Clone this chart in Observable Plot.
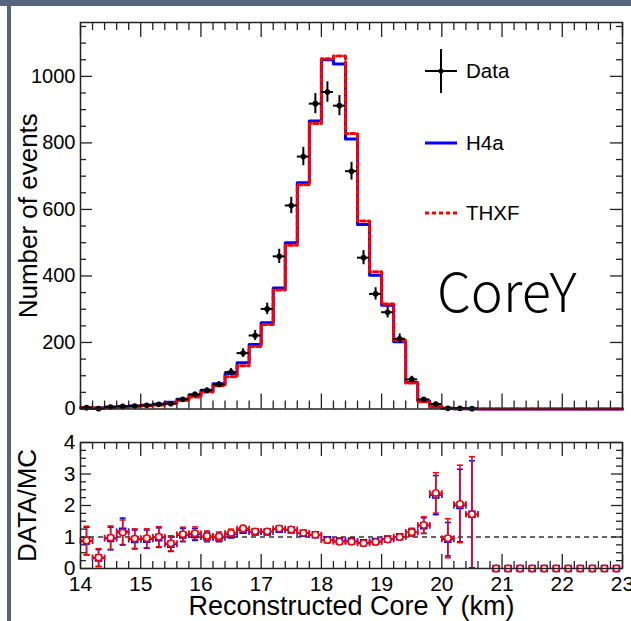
<!DOCTYPE html>
<html><head><meta charset="utf-8">
<script src="https://cdn.jsdelivr.net/npm/d3@7"></script>
<script src="https://cdn.jsdelivr.net/npm/@observablehq/plot@0.6"></script>
<style>
html,body{margin:0;padding:0;background:#fff;}
#wrap{position:relative;width:631px;height:621px;overflow:hidden;background:#fff;font-family:"Liberation Sans",Arial,sans-serif;}
#topband{position:absolute;left:0;top:0;width:631px;height:6px;background:#56657e;}
#leftbar{position:absolute;left:7px;top:6px;width:4px;height:615px;background:#56657e;}
#p1{position:absolute;left:0;top:0;}
#p2{position:absolute;left:0;top:420px;}
</style></head><body>
<div id="wrap"><div id="p1"></div><div id="p2"></div><div id="topband"></div><div id="leftbar"></div></div>
<script>
// ---- data ----
const binCenters = [14.1,14.3,14.5,14.7,14.9,15.1,15.3,15.5,15.7,15.9,16.1,16.3,16.5,16.7,16.9,17.1,17.3,17.5,17.7,17.9,
  18.1,18.3,18.5,18.7,18.9,19.1,19.3,19.5,19.7,19.9,20.1,20.3,20.5,20.7,20.9,21.1,21.3,21.5,21.7,21.9,22.1,22.3,22.5,22.7,22.9];
const binHalfWidth = 0.1;
const h4a = [4,3,6,7,9,11,14,20,29,41,56,76,106,139,194,259,364,500,680,866,
  1050,1037,812,555,402,312,202,80,24,7,2,1,0.6,0.3,0,0,0,0,0,0,0,0,0,0,0];
const thxf = [4,3,5,6,8,10,12,18,26,36,51,70,97,130,188,254,358,492,674,858,
  1053,1061,828,565,413,316,206,78,22,6,2,1,0.5,0.3,0,0,0,0,0,0,0,0,0,0,0];
const dataVals = [4,1,6,8,9,11,14,16,29,44,56,74,111,168,221,301,459,612,759,918,
  953,912,715,455,346,291,211,89,29,15,2,2,1];
const dataErr = [2,1,2.4,2.8,3,3.3,3.7,4,5.4,6.6,7.5,8.6,10.5,13,14.9,17.3,21.4,24.7,27.5,30.3,
  30.9,30.2,26.7,21.3,18.6,17.1,14.5,9.4,5.4,3.9,1.4,1.4,1];
const ratioH4a = [0.87,0.33,0.95,1.18,0.92,0.93,0.98,0.77,1.06,1.08,1.0,0.98,1.08,1.22,1.16,1.16,1.25,1.22,1.12,1.07,
  0.91,0.87,0.87,0.82,0.86,0.94,1.01,1.15,1.36,2.33,0.93,2.0,1.72,null,0,0,0,0,0,0,0,0,0,0,0];
const ratioTHXF = [0.89,0.35,0.98,1.14,0.95,0.96,1.01,0.80,1.09,1.12,1.03,1.02,1.13,1.27,1.18,1.18,1.27,1.24,1.13,1.07,
  0.90,0.85,0.85,0.80,0.84,0.92,1.0,1.15,1.38,2.40,0.96,2.05,1.72,null,0,0,0,0,0,0,0,0,0,0,0];
const errH4a = [0.44,0.27,0.36,0.42,0.3,0.29,0.31,0.23,0.21,0.19,0.15,0.13,0.11,0.1,0.08,0.07,0.06,0.05,0.04,0.04,
  0.03,0.03,0.03,0.04,0.05,0.05,0.07,0.12,0.25,0.62,0.53,1.15,1.7];
const errTHXF = [0.45,0.28,0.37,0.40,0.31,0.3,0.32,0.24,0.22,0.2,0.16,0.14,0.12,0.1,0.08,0.07,0.06,0.05,0.04,0.04,
  0.03,0.03,0.03,0.04,0.05,0.05,0.07,0.12,0.26,0.64,0.62,1.23,1.83];
const xMajor = [14,15,16,17,18,19,20,21,22,23];
const yMajorTop = [0,200,400,600,800,1000];
const yMajorRatio = [0,1,2,3,4];

// ---- helpers ----
const FONT = "'Liberation Sans', Arial, Helvetica, sans-serif";
const W = 631, mL = 80, mR = 9;
const fw = W - mL - mR;
const xMinor = d3.range(0, 46).map(i => Math.round((14 + i*0.2)*10)/10).filter(v => !Number.isInteger(v));
const yMinorTop = d3.range(0, 24).map(i => i*50).filter(v => v % 200 !== 0);
const yMinorRatio = d3.range(0, 17).map(i => i*0.25).filter(v => !Number.isInteger(v));
const TK = {stroke: "#222", strokeWidth: 1.3};
function xTicks(vals, len, fh) {
  return [Plot.ruleX(vals, {x: d => d, insetTop: fh - len, ...TK}),
          Plot.ruleX(vals, {x: d => d, insetBottom: fh - len, ...TK})];
}
function yTicks(vals, len) {
  return [Plot.ruleY(vals, {y: d => d, insetRight: fw - len, ...TK}),
          Plot.ruleY(vals, {y: d => d, insetLeft: fw - len, ...TK})];
}
const capH = {draw(ctx){ ctx.moveTo(-3,0); ctx.lineTo(3,0); }};
const capV = {draw(ctx){ ctx.moveTo(0,-3); ctx.lineTo(0,3); }};

// ---- top panel ----
const H1 = 420, mT1 = 22, mB1 = 11.5, fh1 = H1 - mT1 - mB1;
const steps = arr => binCenters.map((c,i) => ({x: c - binHalfWidth, y: arr[i]}))
  .concat([{x: binCenters[binCenters.length-1] + binHalfWidth, y: arr[arr.length-1]}]);
const dataRows = dataVals.map((v,i) => ({x: binCenters[i], y: v, e: dataErr[i]}));

const svg1 = Plot.plot({
  width: W, height: H1, marginLeft: mL, marginRight: mR, marginTop: mT1, marginBottom: mB1,
  style: {fontFamily: FONT, background: "transparent", overflow: "visible"},
  x: {domain: [14, 23], axis: null},
  y: {domain: [0, 1162]},
  marks: [
    ...xTicks(xMajor, 15, fh1), ...xTicks(xMinor, 8, fh1),
    ...yTicks(yMajorTop, 12), ...yTicks(yMinorTop, 6),
    Plot.line(steps(h4a), {x: "x", y: "y", curve: "step-after", stroke: "#0000ff", strokeWidth: 3}),
    Plot.line(steps(thxf), {x: "x", y: "y", curve: "step-after", stroke: "#ff0000", strokeWidth: 3, strokeDasharray: "4,3"}),
    Plot.ruleX(dataRows, {x: "x", y1: d => Math.max(0, d.y - d.e), y2: d => d.y + d.e, stroke: "#000", strokeWidth: 2}),
    Plot.ruleY(dataRows, {y: "y", x1: d => d.x - binHalfWidth, x2: d => d.x + binHalfWidth, stroke: "#000", strokeWidth: 2}),
    Plot.dot(dataRows, {x: "x", y: "y", r: 2.8, fill: "#000"}),
    Plot.frame({stroke: "#222", strokeWidth: 1.5}),
    Plot.axisY(yMajorTop, {tickSize: 0, tickPadding: 5, fontSize: 20, label: null, tickFormat: d => String(d)}),
    Plot.text(["Number of events"], {frameAnchor: "left", textAnchor: "middle", dx: -44, rotate: -90, lineAnchor: "bottom", fontSize: 26, fill: "#000"})
  ]
});
document.getElementById("p1").appendChild(svg1);

// legend + label inside top panel
const lg = d3.select(svg1).append("g").attr("font-family", FONT).attr("fill", "#000").attr("text-anchor", "start");
lg.append("line").attr("x1", 425).attr("x2", 457).attr("y1", 71).attr("y2", 71).attr("stroke", "#000").attr("stroke-width", 2);
lg.append("line").attr("x1", 441).attr("x2", 441).attr("y1", 49).attr("y2", 93).attr("stroke", "#000").attr("stroke-width", 2);
lg.append("circle").attr("cx", 441).attr("cy", 71).attr("r", 2.5).attr("fill", "#000");
lg.append("text").attr("x", 466).attr("y", 71).attr("dy", "0.36em").attr("font-size", 20.5).text("Data");
lg.append("line").attr("x1", 425).attr("x2", 457).attr("y1", 143).attr("y2", 143).attr("stroke", "#0000ff").attr("stroke-width", 3);
lg.append("text").attr("x", 466).attr("y", 143).attr("dy", "0.36em").attr("font-size", 20.5).text("H4a");
lg.append("line").attr("x1", 425).attr("x2", 457).attr("y1", 213).attr("y2", 213).attr("stroke", "#ff0000").attr("stroke-width", 3).attr("stroke-dasharray", "4,3");
lg.append("text").attr("x", 466).attr("y", 213).attr("dy", "0.36em").attr("font-size", 20.5).text("THXF");
lg.append("text").attr("x", 437).attr("y", 312).attr("font-size", 54).attr("font-weight", 300)
  .attr("font-family", "'Noto Sans CJK JP', 'Noto Sans', sans-serif").text("CoreY");

// ---- ratio panel ----
const H2 = 201, mT2 = 22, mB2 = 53, fh2 = H2 - mT2 - mB2;
const ratioRows = binCenters.map((c,i) => ({x: c, rH: ratioH4a[i], rT: ratioTHXF[i], eH: errH4a[i], eT: errTHXF[i]}));
const withErr = ratioRows.filter(d => d.eH != null);
const withPt = ratioRows.filter(d => d.rH != null);
function errMarks(rk, ek, color) {
  const lo = d => Math.max(0, d[rk] - d[ek]), hi = d => d[rk] + d[ek];
  return [
    Plot.ruleX(withErr, {x: "x", y1: lo, y2: hi, stroke: color, strokeWidth: 1.5, clip: true}),
    Plot.ruleY(withErr, {y: rk, x1: d => d.x - binHalfWidth, x2: d => d.x + binHalfWidth, stroke: color, strokeWidth: 1.5}),
    Plot.dot(withErr, {x: "x", y: hi, symbol: capH, stroke: color, fill: "none", strokeWidth: 1.5}),
    Plot.dot(withErr.filter(d => d[rk] - d[ek] > 0), {x: "x", y: lo, symbol: capH, stroke: color, fill: "none", strokeWidth: 1.5}),
    Plot.dot(withErr, {x: d => d.x - binHalfWidth, y: rk, symbol: capV, stroke: color, fill: "none", strokeWidth: 1.5}),
    Plot.dot(withErr, {x: d => d.x + binHalfWidth, y: rk, symbol: capV, stroke: color, fill: "none", strokeWidth: 1.5})
  ];
}
const svg2 = Plot.plot({
  width: W, height: H2, marginLeft: mL, marginRight: mR, marginTop: mT2, marginBottom: mB2,
  style: {fontFamily: FONT, background: "transparent", overflow: "visible"},
  x: {domain: [14, 23]},
  y: {domain: [0, 4]},
  marks: [
    ...xTicks(xMajor, 14, fh2), ...xTicks(xMinor, 7, fh2),
    ...yTicks(yMajorRatio, 11), ...yTicks(yMinorRatio, 6),
    Plot.ruleY([1], {stroke: "#333", strokeWidth: 1.5, strokeDasharray: "5,4"}),
    ...errMarks("rH", "eH", "#0000ff"),
    Plot.dot(withPt, {x: "x", y: "rH", symbol: "square", r: 3.4, stroke: "#0000ff", fill: "#fff", strokeWidth: 1.5}),
    ...errMarks("rT", "eT", "#ff0000"),
    Plot.dot(withPt, {x: "x", y: "rT", symbol: "circle", r: 3.2, stroke: "#ff0000", fill: "#fff", strokeWidth: 1.5}),
    Plot.frame({stroke: "#222", strokeWidth: 1.5}),
    Plot.axisX(xMajor, {tickSize: 0, tickPadding: 8, fontSize: 21, label: null, tickFormat: d => String(d)}),
    Plot.axisY(yMajorRatio, {tickSize: 0, tickPadding: 5, fontSize: 21, label: null, tickFormat: d => String(d)}),
    Plot.text(["Reconstructed Core Y (km)"], {frameAnchor: "bottom", dy: 46, lineAnchor: "bottom", fontSize: 27, fill: "#000"}),
    Plot.text(["DATA/MC"], {frameAnchor: "left", textAnchor: "middle", dx: -45, rotate: -90, lineAnchor: "bottom", fontSize: 26, fill: "#000"})
  ]
});
document.getElementById("p2").appendChild(svg2);
</script>
</body></html>
